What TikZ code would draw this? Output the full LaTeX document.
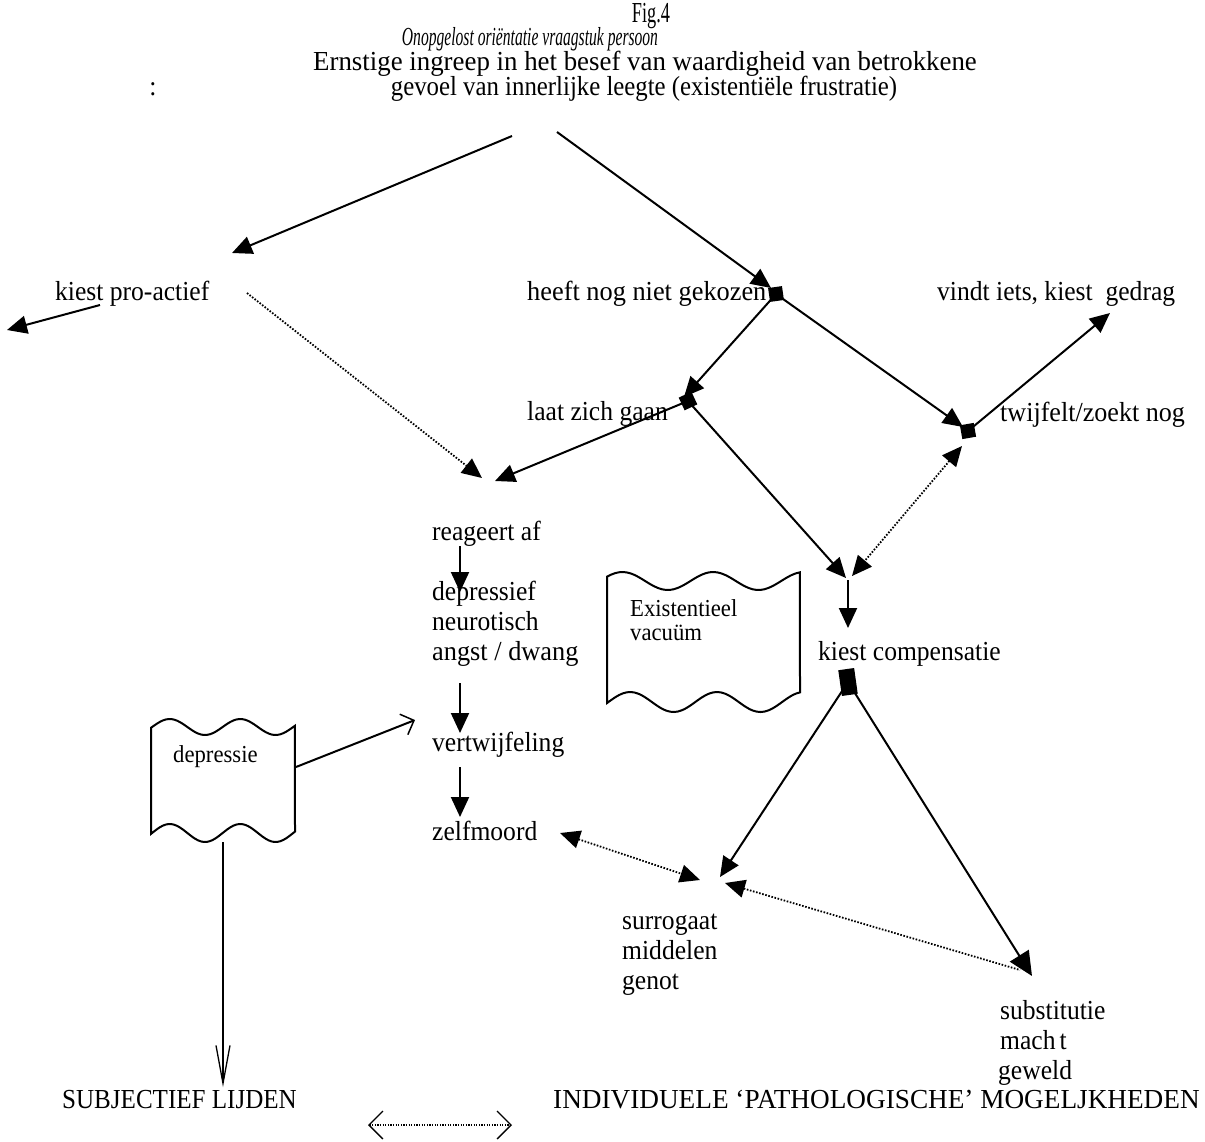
\documentclass[tikz,border=0pt]{standalone}
\usepackage{fontspec}
\usepackage{graphicx}
\setmainfont[FakeStretch=0.93]{Liberation Serif}
\newfontfamily\figfont[FakeStretch=0.63]{Liberation Serif}
\newfontfamily\subfont[FakeStretch=0.6]{Liberation Serif}
\usetikzlibrary{arrows.meta}
\tikzset{
  lbl/.style={inner sep=0pt, font=\fontsize{27.5}{30}\selectfont, anchor=mid west},
  boxtxt/.style={inner sep=0pt, font=\fontsize{24.4}{27}\selectfont, anchor=mid west},
  conn/.style={line width=2pt},
  dotl/.style={line width=1.8pt, dash pattern=on 1.6pt off 1.6pt},
  docshape/.style={line width=2pt},
  junc/.style={fill=black, draw=none, inner sep=0pt, minimum width=14pt, minimum height=14pt},
  tri/.tip={Triangle[length=20pt,width=18pt]},
  bigtri/.tip={Triangle[length=24pt,width=22pt]},
  barb/.tip={Straight Barb[length=11pt,width=22pt,line width=1.5pt]},
  vbarb/.tip={Straight Barb[length=38pt,width=14pt,line width=1.3pt]},
  chev/.tip={Straight Barb[length=14pt,width=28pt,line width=1.3pt]},
}
\begin{document}
\begin{tikzpicture}[x=1pt,y=-1pt]
\useasboundingbox[fill=white] (0,0) rectangle (1205,1141);

% ---------- title ----------
\node[inner sep=0pt, anchor=base, font=\figfont\fontsize{29}{30}\selectfont] (fig) at (651,22) {Fig.4};
\node[inner sep=0pt, anchor=base, font=\subfont\itshape\fontsize{26}{28}\selectfont] (sub) at (530,45) {Onopgelost oriëntatie vraagstuk persoon};
\node[lbl, anchor=base] (ern) at (645,70) {\scalebox{1.05}[1]{Ernstige ingreep in het besef van waardigheid van betrokkene}};
\node[lbl, anchor=base] (colon) at (153,95) {:};
\node[lbl, anchor=base] (gev) at (644,95) {\scalebox{0.97}[1]{gevoel van innerlijke leegte (existentiële frustratie)}};

% ---------- labels ----------
\node[lbl] (kpa) at (55,298) {kiest pro-actief};
\node[lbl] (hng) at (527,298) {\scalebox{1.03}[1]{heeft nog niet gekozen}};
\node[lbl] (vig) at (937,298) {vindt iets, kiest\ \ gedrag};
\node[lbl] (lzg) at (527,418) {laat zich gaan};
\node[lbl] (tzn) at (1000,419) {\scalebox{1.02}[1]{twijfelt/zoekt nog}};
\node[lbl] (raf) at (432,538) {reageert af};
\node[lbl] (dep1) at (432,598) {depressief};
\node[lbl] (dep2) at (432,628) {neurotisch};
\node[lbl] (dep3) at (432,658) {\scalebox{1.03}[1]{angst / dwang}};
\node[lbl] (kc) at (818,658) {kiest compensatie};
\node[lbl] (vtw) at (432,749) {vertwijfeling};
\node[lbl] (zm) at (432,838) {zelfmoord};
\node[lbl] (sur1) at (622,927) {surrogaat};
\node[lbl] (sur2) at (622,957) {middelen};
\node[lbl] (sur3) at (622,987) {genot};
\node[lbl] (sub1) at (1000,1017) {substitutie};
\node[lbl] (sub2) at (1000,1047) {mach\hspace{4pt}t};
\node[lbl] (sub3) at (998,1077) {geweld};
\node[lbl, anchor=base west] (sl) at (62,1108) {\scalebox{0.98}[1]{SUBJECTIEF LIJDEN}};
\node[lbl, anchor=base west] (ipm) at (553,1108) {\scalebox{1.065}[1]{INDIVIDUELE ‘PATHOLOGISCHE’ MOGELJKHEDEN}};

% ---------- wavy document shapes ----------
\draw[docshape]
  plot[domain=0:1, samples=50, smooth] ({607+193*\x},{581-9*cos(360*(\x-0.08)/0.47)})
  -- plot[domain=1:0, samples=50, smooth] ({607+193*\x},{702-10*cos(360*(\x-0.12)/0.45)})
  -- cycle;
\node[boxtxt] (ex1) at (630,614) {Existentieel};
\node[boxtxt] (ex2) at (630,638) {vacuüm};

\draw[docshape]
  plot[domain=0:1, samples=50, smooth] ({151+144*\x},{727-8*cos(360*(\x-0.13)/0.49)})
  -- plot[domain=1:0, samples=50, smooth] ({151+144*\x},{833-9*cos(360*(\x-0.13)/0.49)})
  -- cycle;
\node[boxtxt] (dp) at (173,760) {depressie};

% ---------- junction blocks ----------
\node[junc, rotate=8] (hngJ) at (776,294) {};
\node[junc, rotate=25] (lzgJ) at (688,401) {};
\node[junc, rotate=10] (tznJ) at (968,431) {};
\node[junc, minimum width=16pt, minimum height=26pt, rotate=8] (kcJ) at (848,682) {};

% ---------- connector points ----------
\coordinate (t1) at (512,136);
\coordinate (t2) at (557,132);
\coordinate (kpaTip) at (232,253);
\coordinate (hngTip) at (771,288);
\coordinate (lzgTip) at (684,397);
\coordinate (tznTip) at (963,427);
\coordinate (vigTip) at (1110,313);
\coordinate (rafTip) at (495,481);
\coordinate (kpaDot) at (247,293);
\coordinate (rafDotTip) at (482,478);
\coordinate (kcTop) at (846,578);
\coordinate (kcTopR) at (852,576);
\coordinate (tznDot) at (962,446);
\coordinate (kcIn) at (848,580);
\coordinate (kcTip) at (848,628);
\coordinate (surTip) at (720,877);
\coordinate (surDot) at (725,883);
\coordinate (subTip) at (1032,976);
\coordinate (subDot) at (1020,970);
\coordinate (zmDot) at (560,833);
\coordinate (zmSur) at (700,880);
\coordinate (kpaS) at (100,305);
\coordinate (kpaL) at (7,330);
\coordinate (raf1) at (460,546);
\coordinate (raf2) at (460,592);
\coordinate (dep3b) at (460,683);
\coordinate (vtwT) at (460,733);
\coordinate (vtwB) at (460,767);
\coordinate (zmT) at (460,817);
\coordinate (dpR) at (296,767);
\coordinate (vtwL) at (415,720);
\coordinate (dpB) at (223,842);
\coordinate (slT) at (223,1087);
\coordinate (bl) at (368,1125);
\coordinate (br) at (512,1125);

% ---------- connectors ----------
\draw[conn,-tri] (t1) -- (kpaTip);
\draw[conn,-tri] (t2) -- (hngTip);
\draw[conn,-tri] (hngJ.center) -- (lzgTip);
\draw[conn,-tri] (hngJ.center) -- (tznTip);
\draw[conn,-tri] (tznJ.center) -- (vigTip);
\draw[conn,-tri] (lzgJ.center) -- (rafTip);
\draw[conn,-tri] (lzgJ.center) -- (kcTop);
\draw[dotl,tri-tri] (tznDot) -- (kcTopR);
\draw[dotl,-tri] (kpaDot) -- (rafDotTip);
\draw[conn,-tri] (kpaS) -- (kpaL);
\draw[conn,-tri] (kcIn) -- (kcTip);
\draw[conn,-tri] (kcJ.center) -- (surTip);
\draw[conn,-bigtri] (kcJ.center) -- (subTip);
\draw[dotl,tri-] (surDot) -- (subDot);
\draw[dotl,tri-tri] (zmDot) -- (zmSur);
\draw[conn,-tri] (raf1) -- (raf2);
\draw[conn,-tri] (dep3b) -- (vtwT);
\draw[conn,-tri] (vtwB) -- (zmT);
\draw[conn,-barb] (dpR) -- (vtwL);
\draw[line width=1.5pt,-vbarb] (dpB) -- (slT);
\draw[line width=1.3pt, dash pattern=on 1.3pt off 1.3pt, chev-chev] (bl) -- (br);
\end{tikzpicture}
\end{document}
